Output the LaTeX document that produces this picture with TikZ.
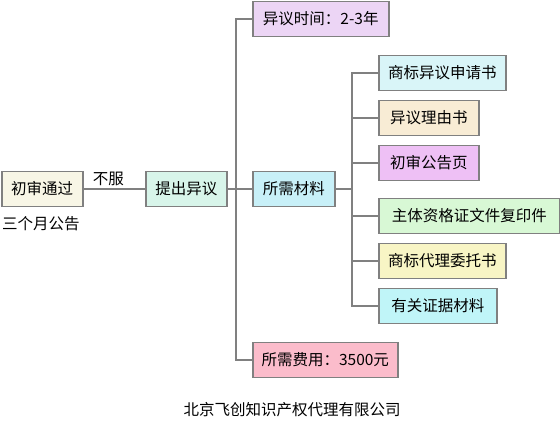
\documentclass[tikz,border=0pt]{standalone}
\usepackage{fontspec}
\setmainfont{Noto Sans CJK SC}
\usetikzlibrary{positioning}
\definecolor{boxline}{HTML}{808080}
\definecolor{cream}{HTML}{F8F6E6}
\definecolor{mint}{HTML}{D8F5EA}
\definecolor{lavender}{HTML}{ECD5F5}
\definecolor{skyblue}{HTML}{C8F0F8}
\definecolor{rosepink}{HTML}{FBBCCB}
\definecolor{paleblue}{HTML}{D9F5F8}
\definecolor{wheat}{HTML}{F8ECD5}
\definecolor{orchid}{HTML}{EEC0F5}
\definecolor{palegreen}{HTML}{D8F8D5}
\definecolor{paleyellow}{HTML}{F8F5C5}
\definecolor{aqua}{HTML}{C0F5F8}
\tikzset{
item/.style={draw=boxline, line width=1.5pt, anchor=west, minimum height=35pt, inner xsep=0pt, font=\fontsize{15.5}{17}\selectfont}, % every box
link/.style={draw=boxline, line width=2pt}, % connectors
plain/.style={font=\fontsize{15.5}{17}\selectfont, inner sep=0pt},
}
\begin{document}
\begin{tikzpicture}[x=1pt, y=-1pt]
        \useasboundingbox (0,0) rectangle (560,422);

        \node[item, fill=cream, minimum width=81pt] (pass) at (1,189) {初审通过};
        \node[plain, anchor=west] (pub) at (2,224) {三个月公告};
        \node[item, fill=mint, minimum width=81pt] (oppose) at (145,189) {提出异议};
        \node[item, fill=lavender, minimum width=136pt] (time) at (252,19) {异议时间：2-3年};
        \node[item, fill=skyblue, minimum width=82pt] (docs) at (252,189) {所需材料};
        \node[item, fill=rosepink, minimum width=145pt] (fee) at (252,360) {所需费用：3500元};

        \node[item, fill=paleblue, minimum width=127pt] (d1) at (378,73) {商标异议申请书};
        \node[item, fill=wheat, minimum width=100pt] (d2) at (378,118) {异议理由书};
        \node[item, fill=orchid, minimum width=100pt] (d3) at (378,163) {初审公告页};
        \node[item, fill=palegreen, minimum width=181pt] (d4) at (378,216) {主体资格证文件复印件};
        \node[item, fill=paleyellow, minimum width=127pt] (d5) at (378,261) {商标代理委托书};
        \node[item, fill=aqua, minimum width=118pt] (d6) at (378,306) {有关证据材料};

        \node[plain] (company) at (292,410) {北京飞创知识产权代理有限公司};

        \coordinate (trunk) at (236,189);
        \coordinate (branch) at (352,189);

        \draw[link] (pass) -- node[plain, above=2pt, xshift=-6pt] {不服} (oppose);
        \draw[link] (oppose) -- (trunk);
        \draw[link] (trunk) |- (time.west);
        \draw[link] (trunk) |- (fee.west);
        \draw[link] (trunk) -- (docs);
        \draw[link] (docs) -- (branch);
        \foreach \d in {d1,d2,d3,d4,d5,d6}
          \draw[link] (branch) |- (\d.west);
      \end{tikzpicture}
\end{document}
